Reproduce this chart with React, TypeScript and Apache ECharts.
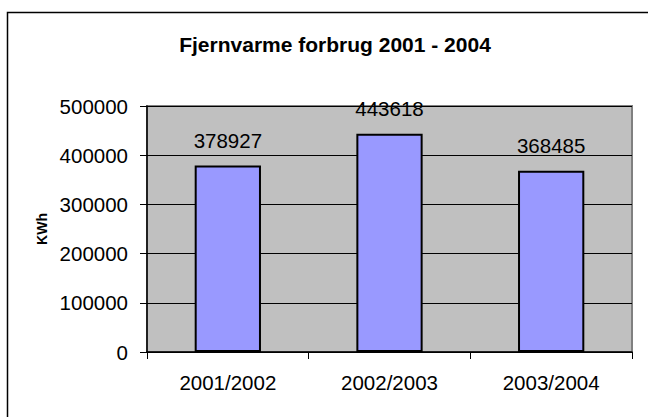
import React, { useEffect, useRef } from "react";
import * as echarts from "echarts";

const categories = ["2001/2002", "2002/2003", "2003/2004"];
const values = [378927, 443618, 368485];
const yTicks = { min: 0, max: 500000, interval: 100000 };
const titleText = "Fjernvarme forbrug 2001 - 2004";
const yName = "KWh";

export default function App() {
  const ref = useRef<HTMLDivElement>(null);
  useEffect(() => {
    if (!ref.current) return;
    const chart = echarts.init(ref.current, undefined, { renderer: "svg" });
    const font = "Liberation Sans, Arial, sans-serif";
    chart.setOption({
      animation: false,
      backgroundColor: "#ffffff",
      title: {
        text: titleText,
        left: 330,
        textAlign: "center",
        top: 29,
        textStyle: { fontFamily: font, fontWeight: "bold", fontSize: 21, color: "#000" },
      },
      graphic: [
        {
          type: "rect",
          shape: { x: 7.5, y: 12.5, width: 700, height: 500 },
          style: { fill: "none", stroke: "#000", lineWidth: 1.5 },
          z: -10,
          silent: true,
        },
        {
          type: "text",
          x: 42,
          y: 229,
          rotation: Math.PI / 2,
          style: {
            text: yName,
            fontFamily: font,
            fontWeight: "bold",
            fontSize: 14,
            fill: "#000",
            align: "center",
            verticalAlign: "middle",
          },
        },
      ],
      grid: {
        left: 147,
        right: 16,
        top: 106,
        bottom: 65,
        show: true,
        backgroundColor: "#C0C0C0",
        borderColor: "#808080",
        borderWidth: 2,
      },
      xAxis: {
        type: "category",
        data: categories,
        boundaryGap: true,
        axisLine: { show: true, lineStyle: { color: "#000", width: 1.5 } },
        axisTick: { show: true, length: 7, inside: false, alignWithLabel: false, lineStyle: { color: "#000" } },
        axisLabel: { fontFamily: font, fontSize: 20.5, color: "#000", margin: 20 },
        splitLine: { show: false },
      },
      yAxis: {
        type: "value",
        min: yTicks.min,
        max: yTicks.max,
        interval: yTicks.interval,
        axisLine: { show: true, lineStyle: { color: "#000", width: 1.5 } },
        axisTick: { show: true, length: 7, lineStyle: { color: "#000" } },
        axisLabel: {
          fontFamily: font,
          fontSize: 20.5,
          color: "#000",
          margin: 19,
          formatter: (v: number) => String(v),
        },
        splitLine: { show: true, lineStyle: { color: "#000", width: 1 } },
      },
      series: [
        {
          type: "bar",
          data: values,
          barWidth: "41%",
          itemStyle: { color: "#9999FF", borderColor: "#000", borderWidth: 2 },
          label: {
            show: true,
            position: "top",
            distance: 15,
            fontFamily: font,
            fontSize: 20.5,
            color: "#000",
          },
        },
      ],
    });
    return () => chart.dispose();
  }, []);
  return <div ref={ref} style={{ width: 648, height: 417, position: "absolute", left: 0, top: 0 }} />;
}
